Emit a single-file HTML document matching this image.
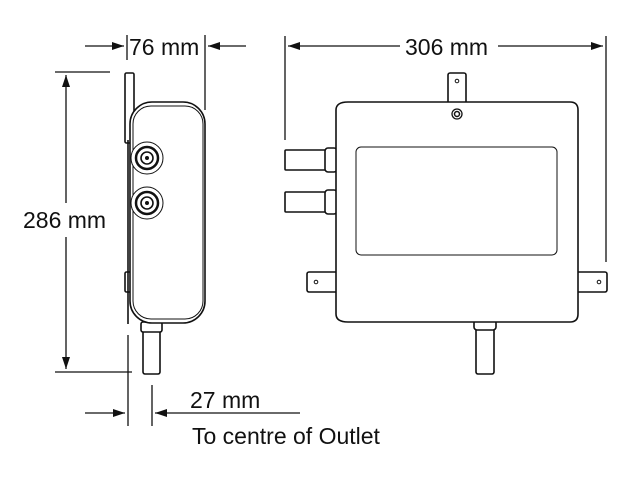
<!DOCTYPE html>
<html><head><style>
html,body{margin:0;padding:0;background:#fff;}
svg{display:block;}
text{font-family:"Liberation Sans",sans-serif;font-size:23px;fill:#111;}
</style></head><body>
<svg width="643" height="479" viewBox="0 0 643 479" xmlns="http://www.w3.org/2000/svg">
<defs>
<marker id="a" markerWidth="12" markerHeight="8" refX="12" refY="4" orient="auto" markerUnits="userSpaceOnUse">
<path d="M0,0 L12,4 L0,8 z" fill="#111"/></marker>
</defs>
<g stroke="#111" stroke-width="1.3" fill="none">
<line x1="85" y1="46" x2="124" y2="46" marker-end="url(#a)"/>
<line x1="127" y1="35" x2="127" y2="60"/>
<line x1="205" y1="35" x2="205" y2="110"/>
<line x1="246" y1="46" x2="208" y2="46" marker-end="url(#a)"/>
<line x1="285" y1="36" x2="285" y2="140"/>
<line x1="606" y1="36" x2="606" y2="262"/>
<line x1="400" y1="46" x2="288" y2="46" marker-end="url(#a)"/>
<line x1="498" y1="46" x2="603" y2="46" marker-end="url(#a)"/>
<line x1="55" y1="72" x2="110" y2="72"/>
<line x1="55" y1="372" x2="132" y2="372"/>
<line x1="66" y1="203" x2="66" y2="75" marker-end="url(#a)"/>
<line x1="66" y1="237" x2="66" y2="369" marker-end="url(#a)"/>
<line x1="128" y1="335" x2="128" y2="426"/>
<line x1="152" y1="385" x2="152" y2="426"/>
<line x1="85" y1="413" x2="125" y2="413" marker-end="url(#a)"/>
<line x1="300" y1="413" x2="155" y2="413" marker-end="url(#a)"/>
</g>
<text x="129" y="55">76 mm</text>
<text x="405" y="55">306 mm</text>
<text x="23" y="228">286 mm</text>
<text x="190" y="408">27 mm</text>
<text x="192" y="444">To centre of Outlet</text>

<g stroke="#111" stroke-width="1.6" fill="#fff">
<rect x="125" y="73" width="9" height="70" rx="1.5"/>
<rect x="125" y="272" width="9" height="20" rx="1.5"/>
<line x1="128" y1="140" x2="128" y2="324"/>
<rect x="143" y="322" width="17" height="52" rx="2"/>
<rect x="141" y="322" width="21" height="10" rx="2"/>
<rect x="130" y="102" width="75" height="221" rx="22"/>
<rect x="133" y="106" width="70" height="213" rx="18" stroke-width="1"/>
<circle cx="147" cy="158" r="16" stroke-width="1"/>
<circle cx="147" cy="158" r="11" stroke-width="2.5"/>
<circle cx="147" cy="158" r="6"/>
<circle cx="147" cy="158" r="1.2" fill="#111"/>
<circle cx="147" cy="203" r="16" stroke-width="1"/>
<circle cx="147" cy="203" r="11" stroke-width="2.5"/>
<circle cx="147" cy="203" r="6"/>
<circle cx="147" cy="203" r="1.2" fill="#111"/>
</g>

<g stroke="#111" stroke-width="1.6" fill="#fff">
<rect x="448" y="73" width="18" height="32" rx="2"/>
<circle cx="457" cy="81" r="1.8" stroke-width="1"/>
<rect x="307" y="272" width="32" height="20" rx="2"/>
<circle cx="316" cy="282" r="1.8" stroke-width="1"/>
<rect x="575" y="272" width="32" height="20" rx="2"/>
<circle cx="599" cy="282" r="1.8" stroke-width="1"/>
<rect x="285" y="150" width="44" height="20" rx="1"/>
<rect x="325" y="148" width="12" height="24" rx="3"/>
<rect x="285" y="192" width="44" height="20" rx="1"/>
<rect x="325" y="190" width="12" height="24" rx="3"/>
<rect x="476" y="322" width="18" height="52" rx="2"/>
<rect x="474" y="320" width="22" height="10" rx="3"/>
<path d="M348,102 L570,102 Q578,102 578,110 L578,314 Q578,322 570,322 L348,322 Q336,322 336,314 L336,110 Q336,102 348,102 Z"/>
<rect x="356" y="147" width="201" height="108" rx="5" stroke-width="1"/>
<circle cx="457" cy="114" r="5" stroke-width="1.3"/>
<circle cx="457" cy="114" r="2.5" stroke-width="1.5"/>
</g>
</svg>
</body></html>
